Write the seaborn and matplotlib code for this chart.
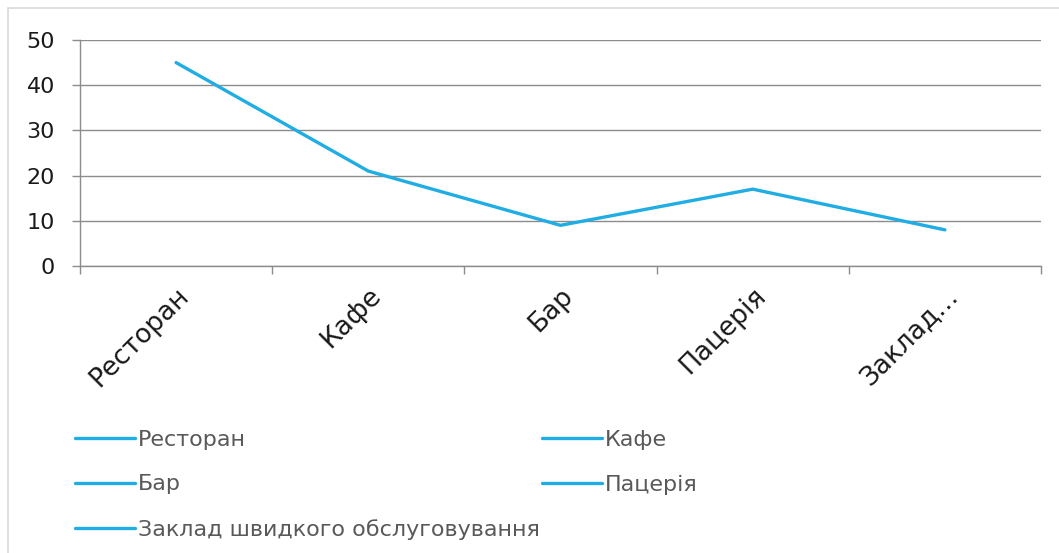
import matplotlib
matplotlib.use("Agg")
import matplotlib.pyplot as plt
from matplotlib.lines import Line2D
from matplotlib.patches import Rectangle
from matplotlib.ticker import FixedLocator
import seaborn as sns
import pandas as pd

# дані графіка
categories = ["Ресторан", "Кафе", "Бар", "Пацерія", "Заклад швидкого обслуговування"]
tick_labels = ["Ресторан", "Кафе", "Бар", "Пацерія", "Заклад…"]
values = [45, 21, 9, 17, 8]
y_ticks = [0, 10, 20, 30, 40, 50]

line_color = "#1FADE4"
grid_color = "#8C8C8C"

sns.set_theme(style="white")
plt.rcParams["font.family"] = ["DejaVu Sans"]

df = pd.DataFrame({"pos": range(len(categories)), "value": values})

fig = plt.figure(figsize=(10.59, 5.53), dpi=100)
W, H = 1059, 553
ax = fig.add_axes([80 / W, 1 - 266 / H, (1041 - 80) / W, (266 - 40) / H])

sns.lineplot(data=df, x="pos", y="value", ax=ax, color=line_color,
             linewidth=2.4, legend=False)

ax.set_xlim(-0.5, len(categories) - 0.5)
ax.set_ylim(0, 50)
ax.set_yticks(y_ticks)
ax.set_yticklabels([str(t) for t in y_ticks], fontsize=16, color="#1a1a1a")
ax.yaxis.grid(True, color=grid_color, linewidth=1)
ax.xaxis.grid(False)

ax.set_xticks(range(len(categories)))
ax.set_xticklabels(tick_labels, fontsize=19, color="#1a1a1a",
                   rotation=45, ha="right", rotation_mode="anchor")
ax.xaxis.set_minor_locator(FixedLocator([i - 0.5 for i in range(len(categories) + 1)]))
ax.tick_params(axis="x", which="major", length=0, pad=12)
ax.tick_params(axis="x", which="minor", length=6, width=1, color=grid_color, direction="out")
ax.tick_params(axis="y", which="major", length=6, width=1, color=grid_color, direction="out", pad=12)
ax.tick_params(bottom=True, left=True, which="both")

for side in ["top", "right"]:
    ax.spines[side].set_visible(False)
for side in ["left", "bottom"]:
    ax.spines[side].set_color(grid_color)
    ax.spines[side].set_linewidth(1)
ax.set_xlabel("")
ax.set_ylabel("")

# легенда: кожна категорія з однаковою лінією
order = [0, 2, 4, 1, 3]
handles = [Line2D([0], [0], color=line_color, linewidth=2.4) for _ in order]
labels = [categories[i] for i in order]
fig.legend(handles, labels, ncol=2, loc="upper left",
           bbox_to_anchor=(55 / W, 1 - 410 / H), frameon=False,
           fontsize=16, labelcolor="#595959", handlelength=2.7,
           handletextpad=0.12, columnspacing=0.1, labelspacing=1.1)

# рамка області діаграми
fig.patches.append(Rectangle((8 / W, -0.01), 1.02, 1 - 8 / H + 0.01,
                             transform=fig.transFigure, fill=False,
                             edgecolor="#D9D9D9", linewidth=1.2))

fig.savefig("out.png", dpi=100)
